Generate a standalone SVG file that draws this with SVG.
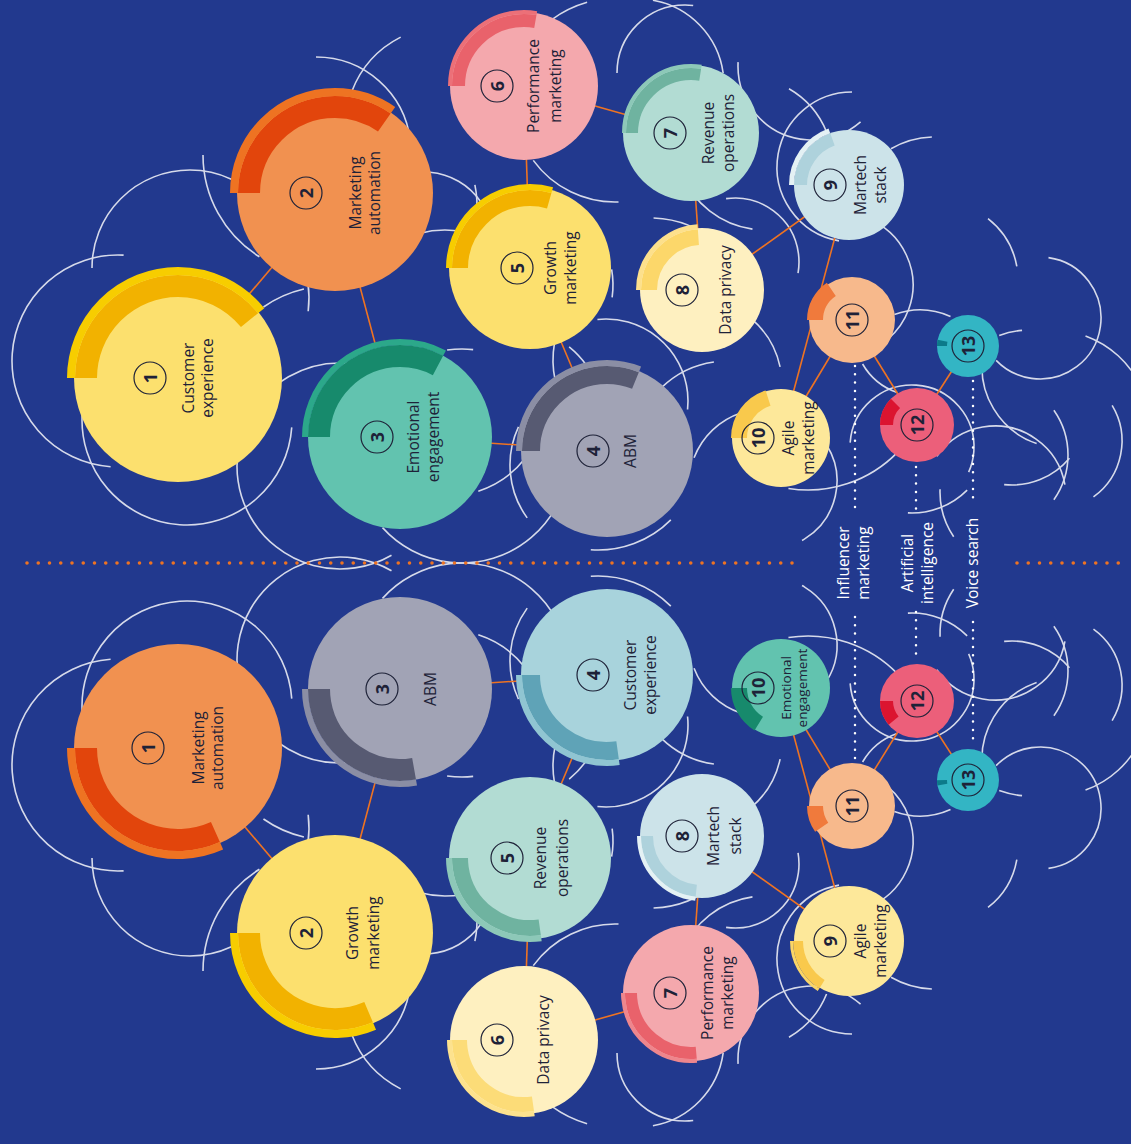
<svg xmlns="http://www.w3.org/2000/svg" xmlns:xlink="http://www.w3.org/1999/xlink" width="1131" height="1144" viewBox="0 0 1131 1144">
<style>
.arc circle{fill:none;stroke:#D6DAEA;stroke-width:1.6}
.conn line{stroke:#EE7322;stroke-width:1.6}
.b{fill:none}
.nc{fill:none;stroke:#1E2238;stroke-width:1.2}
.lbl{font-family:'Open Sans',Lato,sans-serif;font-size:15.5px;fill:#1E2238;text-anchor:middle;dominant-baseline:central}
.num{font-family:'Open Sans',Lato,sans-serif;font-size:18px;font-weight:700;fill:#1E2238;text-anchor:middle;dominant-baseline:central}
.wl{font-family:'Open Sans',Lato,sans-serif;font-size:15.5px;fill:#FFFFFF;text-anchor:middle;dominant-baseline:central}
</style>
<rect width="1131" height="1144" fill="#22398E"/>
<g id="arcs">
<g id="arcs-top" class="arc">
<circle cx="118" cy="361" r="106" pathLength="360" stroke-dasharray="179 400" transform="rotate(94 118 361)"/>
<circle cx="190" cy="268" r="98" pathLength="360" stroke-dasharray="115 400" transform="rotate(180 190 268)"/>
<circle cx="323" cy="155" r="120" pathLength="360" stroke-dasharray="58 400" transform="rotate(122 323 155)"/>
<circle cx="316" cy="152" r="95" pathLength="360" stroke-dasharray="83 400" transform="rotate(270 316 152)"/>
<circle cx="447" cy="128" r="102" pathLength="360" stroke-dasharray="42 400" transform="rotate(201 447 128)"/>
<circle cx="330" cy="402" r="116" pathLength="360" stroke-dasharray="22 400" transform="rotate(235 330 402)"/>
<circle cx="200" cy="298" r="109" pathLength="360" stroke-dasharray="15 400" transform="rotate(352 200 298)"/>
<circle cx="187" cy="420" r="105" pathLength="360" stroke-dasharray="181 400" transform="rotate(4 187 420)"/>
<circle cx="340" cy="466" r="103" pathLength="360" stroke-dasharray="215 400" transform="rotate(60 340 466)"/>
<circle cx="462" cy="456" r="107" pathLength="360" stroke-dasharray="110 400" transform="rotate(28 462 456)"/>
<circle cx="462" cy="456" r="107" pathLength="360" stroke-dasharray="14 400" transform="rotate(262 462 456)"/>
<circle cx="448" cy="398" r="98" pathLength="360" stroke-dasharray="34 400" transform="rotate(38 448 398)"/>
<circle cx="600" cy="465" r="90" pathLength="360" stroke-dasharray="61 400" transform="rotate(144 600 465)"/>
<circle cx="606" cy="401" r="82" pathLength="360" stroke-dasharray="102 400" transform="rotate(264 606 401)"/>
<circle cx="727" cy="455" r="94" pathLength="360" stroke-dasharray="36 400" transform="rotate(226 727 455)"/>
<circle cx="765" cy="485" r="76" pathLength="360" stroke-dasharray="51 400" transform="rotate(201 765 485)"/>
<circle cx="598" cy="447" r="103" pathLength="360" stroke-dasharray="49 400" transform="rotate(45 598 447)"/>
<circle cx="618" cy="110" r="112" pathLength="360" stroke-dasharray="20 400" transform="rotate(234 618 110)"/>
<circle cx="638" cy="85" r="86" pathLength="360" stroke-dasharray="72 400" transform="rotate(280 638 85)"/>
<circle cx="685" cy="73" r="68" pathLength="360" stroke-dasharray="97 400" transform="rotate(180 685 73)"/>
<circle cx="812" cy="66" r="74" pathLength="360" stroke-dasharray="134 400" transform="rotate(49 812 66)"/>
<circle cx="745" cy="165" r="88" pathLength="360" stroke-dasharray="38 400" transform="rotate(300 745 165)"/>
<circle cx="852" cy="167" r="75" pathLength="360" stroke-dasharray="170 400" transform="rotate(100 852 167)"/>
<circle cx="935" cy="225" r="88" pathLength="360" stroke-dasharray="28 400" transform="rotate(240 935 225)"/>
<circle cx="842" cy="285" r="71" pathLength="360" stroke-dasharray="120 400" transform="rotate(290 842 285)"/>
<circle cx="735" cy="262" r="64" pathLength="360" stroke-dasharray="108 400" transform="rotate(262 735 262)"/>
<circle cx="765" cy="140" r="90" pathLength="360" stroke-dasharray="60 400" transform="rotate(98 765 140)"/>
<circle cx="650" cy="320" r="102" pathLength="360" stroke-dasharray="40 400" transform="rotate(272 650 320)"/>
<circle cx="424" cy="241" r="69" pathLength="360" stroke-dasharray="50 400" transform="rotate(275 424 241)"/>
<circle cx="380" cy="205" r="97" pathLength="360" stroke-dasharray="18 400" transform="rotate(348 380 205)"/>
<circle cx="445" cy="330" r="100" pathLength="360" stroke-dasharray="25 400" transform="rotate(255 445 330)"/>
<circle cx="523" cy="285" r="90" pathLength="360" stroke-dasharray="18 400" transform="rotate(350 523 285)"/>
<circle cx="650" cy="360" r="97" pathLength="360" stroke-dasharray="22 400" transform="rotate(168 650 360)"/>
<circle cx="510" cy="420" r="94" pathLength="360" stroke-dasharray="16 400" transform="rotate(309 510 420)"/>
<circle cx="615" cy="101" r="101" pathLength="360" stroke-dasharray="56 400" transform="rotate(88 615 101)"/>
<circle cx="940" cy="280" r="78" pathLength="360" stroke-dasharray="42 400" transform="rotate(308 940 280)"/>
<circle cx="1040" cy="318" r="61" pathLength="360" stroke-dasharray="218 400" transform="rotate(278 1040 318)"/>
<circle cx="1030" cy="420" r="90" pathLength="360" stroke-dasharray="15 400" transform="rotate(250 1030 420)"/>
<circle cx="1052" cy="428" r="98" pathLength="360" stroke-dasharray="45 400" transform="rotate(290 1052 428)"/>
<circle cx="918" cy="332" r="64" pathLength="360" stroke-dasharray="41 400" transform="rotate(109 918 332)"/>
<circle cx="1063" cy="367" r="81" pathLength="360" stroke-dasharray="80 400" transform="rotate(109 1063 367)"/>
<circle cx="995" cy="497" r="71" pathLength="360" stroke-dasharray="135 400" transform="rotate(215 995 497)"/>
<circle cx="1020" cy="492" r="80" pathLength="360" stroke-dasharray="36 400" transform="rotate(146 1020 492)"/>
<circle cx="912" cy="435" r="78" pathLength="360" stroke-dasharray="48 400" transform="rotate(45 912 435)"/>
<circle cx="912" cy="447" r="62" pathLength="360" stroke-dasharray="200 400" transform="rotate(184 912 447)"/>
<circle cx="808" cy="365" r="125" pathLength="360" stroke-dasharray="55 400" transform="rotate(44 808 365)"/>
<circle cx="769" cy="481" r="68" pathLength="360" stroke-dasharray="93 400" transform="rotate(328 769 481)"/>
<circle cx="990" cy="455" r="78" pathLength="360" stroke-dasharray="70 400" transform="rotate(325 990 455)"/>
<circle cx="1012" cy="410" r="75" pathLength="360" stroke-dasharray="56 400" transform="rotate(40 1012 410)"/>
<circle cx="1053" cy="441" r="69" pathLength="360" stroke-dasharray="85 400" transform="rotate(329 1053 441)"/>
<circle cx="695" cy="385" r="87" pathLength="360" stroke-dasharray="38 400" transform="rotate(310 695 385)"/>
<circle cx="920" cy="385" r="75" pathLength="360" stroke-dasharray="44 400" transform="rotate(250 920 385)"/>
</g>
<use xlink:href="#arcs-top" href="#arcs-top" transform="matrix(1 0 0 -1 0 1126)"/>
</g>
<g id="dividers">
<line x1="27" y1="563" x2="800" y2="563" stroke="#EE7322" stroke-width="3.6" stroke-linecap="round" stroke-dasharray="0 11.25"/>
<line x1="1017" y1="563" x2="1125" y2="563" stroke="#EE7322" stroke-width="3.6" stroke-linecap="round" stroke-dasharray="0 11.25"/>
<g stroke="#FFFFFF" stroke-width="2.5" stroke-linecap="round" stroke-dasharray="0 8.3">
<line x1="855" y1="366" x2="855" y2="510"/>
<line x1="855" y1="617" x2="855" y2="760"/>
<line x1="916" y1="467" x2="916" y2="515"/>
<line x1="916" y1="612" x2="916" y2="659"/>
<line x1="973" y1="381" x2="973" y2="505"/>
<line x1="973" y1="622" x2="973" y2="746"/>
</g>
<text class="wl" transform="translate(853 563) rotate(-90)"><tspan x="0" y="-10">Influencer</tspan><tspan x="0" y="10">marketing</tspan></text>
<text class="wl" transform="translate(917 563) rotate(-90)"><tspan x="0" y="-10">Artificial</tspan><tspan x="0" y="10">intelligence</tspan></text>
<text class="wl" transform="translate(972 563) rotate(-90)">Voice search</text>
</g>
<g id="connectors">
<g id="conn-top" class="conn">
<line x1="178" y1="378" x2="335" y2="193"/>
<line x1="335" y1="193" x2="400" y2="437"/>
<line x1="400" y1="437" x2="607" y2="451"/>
<line x1="530" y1="268" x2="607" y2="451"/>
<line x1="530" y1="268" x2="524" y2="86"/>
<line x1="524" y1="86" x2="691" y2="133"/>
<line x1="691" y1="133" x2="702" y2="290"/>
<line x1="702" y1="290" x2="849" y2="185"/>
<line x1="849" y1="185" x2="781" y2="438"/>
<line x1="852" y1="320" x2="781" y2="438"/>
<line x1="852" y1="320" x2="917" y2="425"/>
<line x1="917" y1="425" x2="968" y2="346"/>
</g>
<use xlink:href="#conn-top" href="#conn-top" transform="matrix(1 0 0 -1 0 1126)"/>
</g>
<!-- top nodes -->
<g id="t1" transform="translate(178 378)">
<circle r="104" fill="#FCE06E"/>
<circle class="b" r="92" stroke="#F2B200" stroke-width="22" pathLength="360" stroke-dasharray="141 400" transform="rotate(180)"/>
<circle class="b" r="107" stroke="#F7CD00" stroke-width="8" pathLength="360" stroke-dasharray="141 400" transform="rotate(180)"/>
<circle class="nc" cx="-28" r="16"/>
<text class="num" transform="translate(-28 0) rotate(-90)">1</text>
<text class="lbl" transform="rotate(-90)"><tspan x="0" y="10">Customer</tspan><tspan x="0" y="29">experience</tspan></text>
</g>
<g id="t2" transform="translate(335 193)">
<circle r="98" fill="#F19150"/>
<circle class="b" r="86" stroke="#E2450C" stroke-width="22" pathLength="360" stroke-dasharray="125 400" transform="rotate(180)"/>
<circle class="b" r="101" stroke="#EE7322" stroke-width="8" pathLength="360" stroke-dasharray="125 400" transform="rotate(180)"/>
<circle class="nc" cx="-29" r="16"/>
<text class="num" transform="translate(-29 0) rotate(-90)">2</text>
<text class="lbl" transform="rotate(-90)"><tspan x="0" y="20">Marketing</tspan><tspan x="0" y="39">automation</tspan></text>
</g>
<g id="t3" transform="translate(400 437)">
<circle r="92" fill="#62C3AF"/>
<circle class="b" r="81" stroke="#178A6C" stroke-width="22" pathLength="360" stroke-dasharray="118 400" transform="rotate(180)"/>
<circle class="b" r="95" stroke="#2CA88A" stroke-width="6" pathLength="360" stroke-dasharray="118 400" transform="rotate(180)"/>
<circle class="nc" cx="-23" r="16"/>
<text class="num" transform="translate(-23 0) rotate(-90)">3</text>
<text class="lbl" transform="rotate(-90)"><tspan x="0" y="13">Emotional</tspan><tspan x="0" y="33">engagement</tspan></text>
</g>
<g id="t4" transform="translate(607 451)">
<circle r="86" fill="#A1A3B5"/>
<circle class="b" r="76" stroke="#575A72" stroke-width="18" pathLength="360" stroke-dasharray="112 400" transform="rotate(180)"/>
<circle class="b" r="88" stroke="#8B8EA4" stroke-width="6" pathLength="360" stroke-dasharray="112 400" transform="rotate(180)"/>
<circle class="nc" cx="-14" r="16"/>
<text class="num" transform="translate(-14 0) rotate(-90)">4</text>
<text class="lbl" transform="rotate(-90)"><tspan x="0" y="23">ABM</tspan></text>
</g>
<g id="t5" transform="translate(530 268)">
<circle r="81" fill="#FCE06E"/>
<circle class="b" r="70" stroke="#F2B200" stroke-width="16" pathLength="360" stroke-dasharray="106 400" transform="rotate(180)"/>
<circle class="b" r="81" stroke="#F7CD00" stroke-width="6" pathLength="360" stroke-dasharray="106 400" transform="rotate(180)"/>
<circle class="nc" cx="-13" r="16"/>
<text class="num" transform="translate(-13 0) rotate(-90)">5</text>
<text class="lbl" transform="rotate(-90)"><tspan x="0" y="20">Growth</tspan><tspan x="0" y="40">marketing</tspan></text>
</g>
<g id="t6" transform="translate(524 86)">
<circle r="74" fill="#F4A8AD"/>
<circle class="b" r="65.5" stroke="#E9626B" stroke-width="13" pathLength="360" stroke-dasharray="100 400" transform="rotate(180)"/>
<circle class="b" r="74" stroke="#EC7078" stroke-width="4" pathLength="360" stroke-dasharray="100 400" transform="rotate(180)"/>
<circle class="nc" cx="-27" r="16"/>
<text class="num" transform="translate(-27 0) rotate(-90)">6</text>
<text class="lbl" transform="rotate(-90)"><tspan x="0" y="9">Performance</tspan><tspan x="0" y="31">marketing</tspan></text>
</g>
<g id="t7" transform="translate(691 133)">
<circle r="68" fill="#B2DCD3"/>
<circle class="b" r="59" stroke="#6FB3A0" stroke-width="12" pathLength="360" stroke-dasharray="99 400" transform="rotate(180)"/>
<circle class="b" r="67" stroke="#8DC8B8" stroke-width="4" pathLength="360" stroke-dasharray="99 400" transform="rotate(180)"/>
<circle class="nc" cx="-21" r="16"/>
<text class="num" transform="translate(-21 0) rotate(-90)">7</text>
<text class="lbl" transform="rotate(-90)"><tspan x="0" y="17">Revenue</tspan><tspan x="0" y="37">operations</tspan></text>
</g>
<g id="t8" transform="translate(702 290)">
<circle r="62" fill="#FEF0C0"/>
<circle class="b" r="53" stroke="#FCD76A" stroke-width="16" pathLength="360" stroke-dasharray="86 400" transform="rotate(180)"/>
<circle class="b" r="63.5" stroke="#FDE08C" stroke-width="5" pathLength="360" stroke-dasharray="86 400" transform="rotate(180)"/>
<circle class="nc" cx="-20" r="16"/>
<text class="num" transform="translate(-20 0) rotate(-90)">8</text>
<text class="lbl" transform="rotate(-90)"><tspan x="0" y="23">Data privacy</tspan></text>
</g>
<g id="t9" transform="translate(849 185)">
<circle r="55" fill="#CCE3E9"/>
<circle class="b" r="48.5" stroke="#AED2DC" stroke-width="13" pathLength="360" stroke-dasharray="70 400" transform="rotate(180)"/>
<circle class="b" r="57.5" stroke="#E4F1F4" stroke-width="5" pathLength="360" stroke-dasharray="70 400" transform="rotate(180)"/>
<circle class="nc" cx="-19" r="16"/>
<text class="num" transform="translate(-19 0) rotate(-90)">9</text>
<text class="lbl" transform="rotate(-90)"><tspan x="0" y="11">Martech</tspan><tspan x="0" y="31">stack</tspan></text>
</g>
<g id="t10" transform="translate(781 438)">
<circle r="49" fill="#FDE89A"/>
<circle class="b" r="42" stroke="#F9C94C" stroke-width="16" pathLength="360" stroke-dasharray="72 400" transform="rotate(180)"/>
<circle class="nc" cx="-23" r="16"/>
<text class="num" transform="translate(-23 0) rotate(-90)">10</text>
<text class="lbl" transform="rotate(-90)"><tspan x="0" y="7">Agile</tspan><tspan x="0" y="27">marketing</tspan></text>
</g>
<g id="t11" transform="translate(852 320)">
<circle r="43" fill="#F7B98C"/>
<circle class="b" r="37" stroke="#F07A3C" stroke-width="16" pathLength="360" stroke-dasharray="56 400" transform="rotate(180)"/>
<circle class="nc" r="16"/>
<text class="num" transform="rotate(-90)">11</text>
</g>
<g id="t12" transform="translate(917 425)">
<circle r="37" fill="#EC5F7A"/>
<circle class="b" r="30.5" stroke="#DB1430" stroke-width="13" pathLength="360" stroke-dasharray="45 400" transform="rotate(180)"/>
<circle class="nc" r="16"/>
<text class="num" transform="rotate(-90)">12</text>
</g>
<g id="t13" transform="translate(968 346)">
<circle r="31" fill="#33B5C4"/>
<circle class="b" r="26" stroke="#0C7A8A" stroke-width="10" pathLength="360" stroke-dasharray="12 400" transform="rotate(180)"/>
<circle class="nc" r="16"/>
<text class="num" transform="rotate(-90)">13</text>
</g>
<!-- bottom nodes -->
<g id="b1" transform="translate(178 748)">
<circle r="104" fill="#F19150"/>
<circle class="b" r="92" stroke="#E2450C" stroke-width="22" pathLength="360" stroke-dasharray="114 400" transform="rotate(66)"/>
<circle class="b" r="107" stroke="#EE7322" stroke-width="8" pathLength="360" stroke-dasharray="114 400" transform="rotate(66)"/>
<circle class="nc" cx="-30" r="16"/>
<text class="num" transform="translate(-30 0) rotate(-90)">1</text>
<text class="lbl" transform="rotate(-90)"><tspan x="0" y="20">Marketing</tspan><tspan x="0" y="39">automation</tspan></text>
</g>
<g id="b2" transform="translate(335 933)">
<circle r="98" fill="#FCE06E"/>
<circle class="b" r="86" stroke="#F2B200" stroke-width="22" pathLength="360" stroke-dasharray="113 400" transform="rotate(67)"/>
<circle class="b" r="101" stroke="#F7CD00" stroke-width="8" pathLength="360" stroke-dasharray="113 400" transform="rotate(67)"/>
<circle class="nc" cx="-29" r="16"/>
<text class="num" transform="translate(-29 0) rotate(-90)">2</text>
<text class="lbl" transform="rotate(-90)"><tspan x="0" y="17">Growth</tspan><tspan x="0" y="38">marketing</tspan></text>
</g>
<g id="b3" transform="translate(400 689)">
<circle r="92" fill="#A1A3B5"/>
<circle class="b" r="81" stroke="#575A72" stroke-width="22" pathLength="360" stroke-dasharray="100 400" transform="rotate(80)"/>
<circle class="b" r="95" stroke="#8B8EA4" stroke-width="6" pathLength="360" stroke-dasharray="100 400" transform="rotate(80)"/>
<circle class="nc" cx="-18" r="16"/>
<text class="num" transform="translate(-18 0) rotate(-90)">3</text>
<text class="lbl" transform="rotate(-90)"><tspan x="0" y="30">ABM</tspan></text>
</g>
<g id="b4" transform="translate(607 675)">
<circle r="86" fill="#A8D3DC"/>
<circle class="b" r="76" stroke="#5FA3B7" stroke-width="18" pathLength="360" stroke-dasharray="98 400" transform="rotate(82)"/>
<circle class="b" r="88" stroke="#90C5D2" stroke-width="6" pathLength="360" stroke-dasharray="98 400" transform="rotate(82)"/>
<circle class="nc" cx="-14" r="16"/>
<text class="num" transform="translate(-14 0) rotate(-90)">4</text>
<text class="lbl" transform="rotate(-90)"><tspan x="0" y="23">Customer</tspan><tspan x="0" y="43">experience</tspan></text>
</g>
<g id="b5" transform="translate(530 858)">
<circle r="81" fill="#B2DCD3"/>
<circle class="b" r="70" stroke="#6FB3A0" stroke-width="16" pathLength="360" stroke-dasharray="98 400" transform="rotate(82)"/>
<circle class="b" r="81" stroke="#8DC8B8" stroke-width="6" pathLength="360" stroke-dasharray="98 400" transform="rotate(82)"/>
<circle class="nc" cx="-23" r="16"/>
<text class="num" transform="translate(-23 0) rotate(-90)">5</text>
<text class="lbl" transform="rotate(-90)"><tspan x="0" y="10">Revenue</tspan><tspan x="0" y="32">operations</tspan></text>
</g>
<g id="b6" transform="translate(524 1040)">
<circle r="74" fill="#FEF0C0"/>
<circle class="b" r="64.5" stroke="#FCDC78" stroke-width="15" pathLength="360" stroke-dasharray="98 400" transform="rotate(82)"/>
<circle class="b" r="74.5" stroke="#FDE28E" stroke-width="5" pathLength="360" stroke-dasharray="98 400" transform="rotate(82)"/>
<circle class="nc" cx="-27" r="16"/>
<text class="num" transform="translate(-27 0) rotate(-90)">6</text>
<text class="lbl" transform="rotate(-90)"><tspan x="0" y="19">Data privacy</tspan></text>
</g>
<g id="b7" transform="translate(691 993)">
<circle r="68" fill="#F4A8AD"/>
<circle class="b" r="60" stroke="#E9626B" stroke-width="12" pathLength="360" stroke-dasharray="95 400" transform="rotate(85)"/>
<circle class="b" r="68" stroke="#EE868D" stroke-width="4" pathLength="360" stroke-dasharray="95 400" transform="rotate(85)"/>
<circle class="nc" cx="-21" r="16"/>
<text class="num" transform="translate(-21 0) rotate(-90)">7</text>
<text class="lbl" transform="rotate(-90)"><tspan x="0" y="16">Performance</tspan><tspan x="0" y="36">marketing</tspan></text>
</g>
<g id="b8" transform="translate(702 836)">
<circle r="62" fill="#CCE3E9"/>
<circle class="b" r="55" stroke="#AED2DC" stroke-width="12" pathLength="360" stroke-dasharray="84 400" transform="rotate(96)"/>
<circle class="b" r="63" stroke="#E4F1F4" stroke-width="4" pathLength="360" stroke-dasharray="84 400" transform="rotate(96)"/>
<circle class="nc" cx="-20" r="16"/>
<text class="num" transform="translate(-20 0) rotate(-90)">8</text>
<text class="lbl" transform="rotate(-90)"><tspan x="0" y="11">Martech</tspan><tspan x="0" y="33">stack</tspan></text>
</g>
<g id="b9" transform="translate(849 941)">
<circle r="55" fill="#FDE89A"/>
<circle class="b" r="51" stroke="#F9C94C" stroke-width="10" pathLength="360" stroke-dasharray="58 400" transform="rotate(122)"/>
<circle class="b" r="57.5" stroke="#FAD567" stroke-width="3" pathLength="360" stroke-dasharray="58 400" transform="rotate(122)"/>
<circle class="nc" cx="-19" r="16"/>
<text class="num" transform="translate(-19 0) rotate(-90)">9</text>
<text class="lbl" transform="rotate(-90)"><tspan x="0" y="11">Agile</tspan><tspan x="0" y="31">marketing</tspan></text>
</g>
<g id="b10" transform="translate(781 688)">
<circle r="49" fill="#62C3AF"/>
<circle class="b" r="42" stroke="#178A6C" stroke-width="16" pathLength="360" stroke-dasharray="58 400" transform="rotate(122)"/>
<circle class="nc" cx="-23" r="16"/>
<text class="num" transform="translate(-23 0) rotate(-90)">10</text>
<text class="lbl" transform="rotate(-90)" style="font-size:13.5px"><tspan x="0" y="5">Emotional</tspan><tspan x="0" y="21">engagement</tspan></text>
</g>
<g id="b11" transform="translate(852 806)">
<circle r="43" fill="#F7B98C"/>
<circle class="b" r="37" stroke="#F07A3C" stroke-width="16" pathLength="360" stroke-dasharray="35 400" transform="rotate(145)"/>
<circle class="nc" r="16"/>
<text class="num" transform="rotate(-90)">11</text>
</g>
<g id="b12" transform="translate(917 701)">
<circle r="37" fill="#EC5F7A"/>
<circle class="b" r="30.5" stroke="#DB1430" stroke-width="13" pathLength="360" stroke-dasharray="40 400" transform="rotate(140)"/>
<circle class="nc" r="16"/>
<text class="num" transform="rotate(-90)">12</text>
</g>
<g id="b13" transform="translate(968 780)">
<circle r="31" fill="#33B5C4"/>
<circle class="b" r="26" stroke="#0C7A8A" stroke-width="10" pathLength="360" stroke-dasharray="10 400" transform="rotate(170)"/>
<circle class="nc" r="16"/>
<text class="num" transform="rotate(-90)">13</text>
</g>
</svg>
